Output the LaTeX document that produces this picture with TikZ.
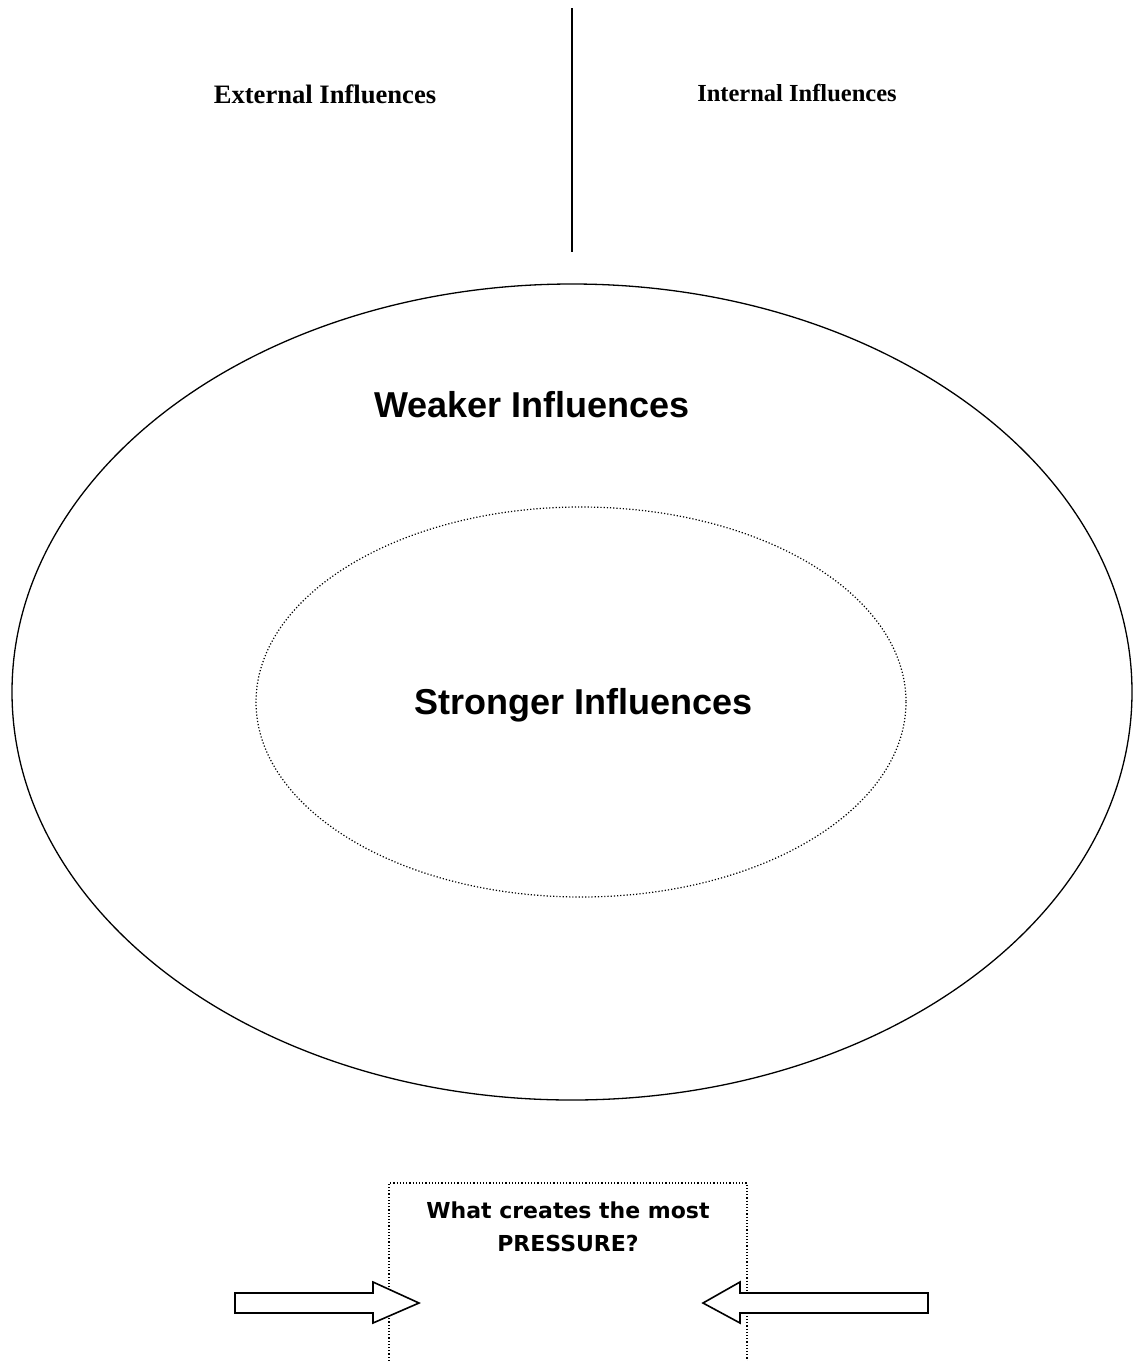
\documentclass[tikz,border=0pt]{standalone}
\usepackage{fontspec}
\setmainfont{Liberation Serif}
\newfontfamily\arialf{Liberation Sans}
\newfontfamily\comicf{DejaVu Sans}
\begin{document}
\begin{tikzpicture}[x=1pt,y=-1pt,
  serifhead/.style={font=\bfseries, inner sep=0pt},
  bigsans/.style={font=\arialf\bfseries\fontsize{36}{40}\selectfont, inner sep=0pt},
  blockarrow/.style={draw, line width=1.6pt, fill=white, line join=miter},
  boxline/.style={draw, line width=1.2pt, dotted}]
\useasboundingbox[fill=white] (0,0) rectangle (1133,1361);
% divider
\coordinate (dtop) at (572,8);
\coordinate (dbot) at (572,252);
\draw[line width=1.6pt] (dtop) -- (dbot);
\node[serifhead, font=\bfseries\fontsize{26.6}{30}\selectfont] (ext) at (325,94) {External Influences};
\node[serifhead, font=\bfseries\fontsize{24.5}{28}\selectfont] (int) at (797,93) {Internal Influences};
% ellipses
\draw[line width=1.3pt] (572,692) ellipse [x radius=560, y radius=408];
\draw[line width=1.2pt, dotted] (581,702) ellipse [x radius=325, y radius=195];
\node[bigsans] (weak) at (532,405) {Weaker Influences};
\node[bigsans] (strong) at (584,705) {Stronger Influences};
% bottom box (open at the bottom)
\draw[boxline] (389,1361) -- (389,1183) -- (747,1183) -- (747,1361);
\node[align=center, font=\comicf\bfseries\fontsize{22}{33}\selectfont, inner sep=0pt] (q) at (568,1227) {What creates the most\\PRESSURE?};
% block arrows
\draw[blockarrow] (235,1293) -- (373,1293) -- (373,1282) -- (419,1303) -- (373,1323) -- (373,1313) -- (235,1313) -- cycle;
\draw[blockarrow] (928,1293) -- (740,1293) -- (740,1282) -- (703,1303) -- (740,1323) -- (740,1313) -- (928,1313) -- cycle;
\end{tikzpicture}
\end{document}
